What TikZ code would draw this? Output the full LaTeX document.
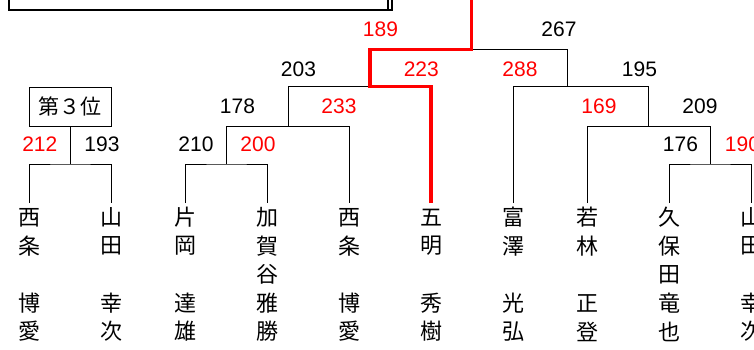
\documentclass[tikz,border=0pt]{standalone}
\usepackage{fontspec}
\setmainfont{Liberation Sans}
\newfontfamily\jpfont{Noto Sans CJK JP}
\begin{document}
\begin{tikzpicture}[x=1pt,y=-1pt,
  line width=1pt,
  wire/.style={draw=black,line width=1pt},
  winwire/.style={draw=red,line width=3.3pt,line join=miter},
  score/.style={inner sep=0pt,font=\fontsize{21}{24}\selectfont},
  winscore/.style={score,text=red},
  namech/.style={inner sep=0pt,font=\jpfont\fontsize{22}{24}\selectfont},
  placebox/.style={draw,line width=1pt,minimum width=82pt,minimum height=39pt,inner sep=0pt,font=\jpfont\fontsize{21}{24}\selectfont}]
\useasboundingbox (0,0) rectangle (754,349);

% title box (cut off at the top)
\draw[line width=2pt] (8.6,-10) -- (8.6,9.5) -- (387.7,9.5) -- (387.7,-10);
\draw[line width=2pt] (10,10) -- (391.7,10) -- (391.7,-10);

% player names
\newcommand\playername[3]{%
  \foreach \c [count=\i] in {#3} {\node[namech] (p#1-\i) at (#2,{217.5+28.5*(\i-1)}) {\c};}}
\playername{1}{29.3}{西,条,{},博,愛}
\playername{2}{111.3}{山,田,{},幸,次}
\playername{3}{185.3}{片,岡,{},達,雄}
\playername{4}{267.3}{加,賀,谷,雅,勝}
\playername{5}{349.3}{西,条,{},博,愛}
\playername{6}{431}{五,明,{},秀,樹}
\playername{7}{513.3}{富,澤,{},光,弘}
\playername{8}{587.3}{若,林,{},正,登}
\playername{9}{669.3}{久,保,田,竜,也}
\playername{10}{751.3}{山,田,{},幸,次}

% leaf ends
\coordinate (A1) at (29.3,203);
\coordinate (A2) at (111.3,203);
\coordinate (A3) at (185.3,203);
\coordinate (A4) at (267.3,203);
\coordinate (A5) at (349.3,203);
\coordinate (A6) at (431,203);
\coordinate (A7) at (513.3,203);
\coordinate (A8) at (587.3,203);
\coordinate (A9) at (669.3,203);
\coordinate (A10) at (751.3,203);

% junctions
\coordinate (J3) at (70.3,164);
\coordinate (Ja) at (226.7,164);
\coordinate (Jb) at (288.3,126.3);
\coordinate (Jc) at (370,86.5);
\coordinate (Je) at (710.3,164);
\coordinate (Jf) at (648.3,126.3);
\coordinate (Jg) at (567.7,86.5);
\coordinate (F) at (471.8,49.2);
\coordinate (Top) at (471.8,-5);

% third place
\node[placebox] (third) at (70.3,106.8) {第３位};
\draw[wire] (A1) |- (J3) -| (A2);
\draw[wire] (J3) -- (third.south);

% left half
\draw[wire] (A3) |- (Ja) -| (A4);
\draw[wire] (Ja) |- (Jb) -| (A5);
\draw[wire] (Jb) |- (Jc);

% right half
\draw[wire] (A9) |- (Je) -| (A10);
\draw[wire] (A8) |- (Jf) -| (Je);
\draw[wire] (A7) |- (Jg) -| (Jf);
\draw[wire] (Jg) |- (F);

% winner path
\draw[winwire] (A6) |- (Jc) |- (F) -- (Top);

% scores
\node[winscore] (s212) at (39.8,144.5) {212};
\node[score] (s193) at (102,144.5) {193};
\node[score] (s203) at (298.5,69) {203};
\node[score] (s178) at (237.5,106.7) {178};
\node[winscore] (s233) at (339,106.7) {233};
\node[score] (s210) at (196,144.5) {210};
\node[winscore] (s200) at (258,144.5) {200};
\node[winscore] (s189) at (380.5,29) {189};
\node[score] (s267) at (559,29) {267};
\node[winscore] (s223) at (421.3,69) {223};
\node[winscore] (s288) at (520,69) {288};
\node[score] (s195) at (639.5,69) {195};
\node[winscore] (s169) at (599,106.7) {169};
\node[score] (s209) at (700,106.7) {209};
\node[score] (s176) at (680.5,144.5) {176};
\node[winscore] (s190) at (742.5,144.5) {190};
\end{tikzpicture}
\end{document}
